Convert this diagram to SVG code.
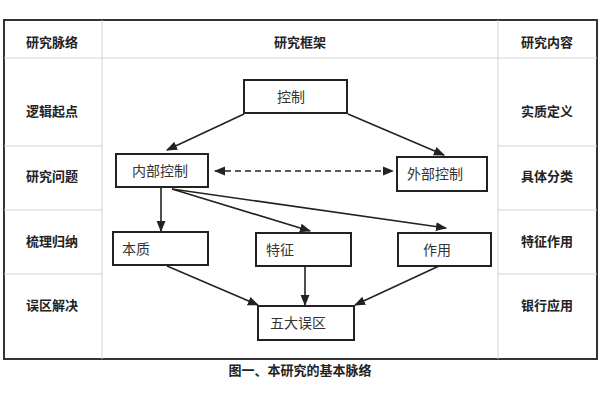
<svg xmlns="http://www.w3.org/2000/svg" width="600" height="400" viewBox="0 0 600 400">
<style>
.g{stroke:#d4d4d4;stroke-width:1;fill:none}
.b{fill:#fff;stroke:#222;stroke-width:2}
.h{font-family:"Noto Sans CJK SC",sans-serif;font-size:13px;font-weight:bold;fill:#222;text-anchor:middle}
.t{font-family:"Noto Sans CJK SC",sans-serif;font-size:14px;fill:#333}
.c{stroke:#222;stroke-width:1.6;fill:none;marker-end:url(#a)}
</style>
<defs><marker id="a" viewBox="0 0 10 10" refX="9" refY="5" markerWidth="7" markerHeight="7" orient="auto-start-reverse"><path d="M0,1 L10,5 L0,9 z" fill="#222"/></marker></defs>
<rect width="600" height="400" fill="#fff"/>
<g id="grid">
<rect x="4" y="20" width="593" height="339" fill="none" stroke="#333" stroke-width="2"/>
<line class="g" x1="102" y1="20" x2="102" y2="359"/>
<line class="g" x1="498" y1="20" x2="498" y2="359"/>
<line class="g" x1="4" y1="58" x2="597" y2="58"/>
<line class="g" x1="4" y1="146" x2="102" y2="146"/><line class="g" x1="498" y1="146" x2="597" y2="146"/>
<line class="g" x1="4" y1="210" x2="102" y2="210"/><line class="g" x1="498" y1="210" x2="597" y2="210"/>
<line class="g" x1="4" y1="274" x2="102" y2="274"/><line class="g" x1="498" y1="274" x2="597" y2="274"/>
</g>
<g id="labels">
<text class="h" x="52" y="47">研究脉络</text><text class="h" x="300" y="47">研究框架</text><text class="h" x="547" y="47">研究内容</text>
<text class="h" x="52" y="116">逻辑起点</text><text class="h" x="547" y="116">实质定义</text>
<text class="h" x="52" y="181">研究问题</text><text class="h" x="547" y="181">具体分类</text>
<text class="h" x="52" y="246">梳理归纳</text><text class="h" x="547" y="246">特征作用</text>
<text class="h" x="52" y="310">误区解决</text><text class="h" x="547" y="310">银行应用</text>
<text class="h" x="300" y="375">图一、本研究的基本脉络</text>
</g>
<g id="connectors">
<line class="c" x1="244" y1="114" x2="167" y2="150"/>
<line class="c" x1="348" y1="114" x2="444" y2="155"/>
<line class="c" x1="215" y1="171" x2="393" y2="171" stroke-dasharray="6,4" marker-start="url(#a)"/>
<line class="c" x1="161" y1="188" x2="161" y2="231"/>
<line class="c" x1="172" y1="189" x2="310" y2="231"/>
<line class="c" x1="172" y1="189" x2="446" y2="228"/>
<line class="c" x1="167" y1="266" x2="258" y2="305"/>
<line class="c" x1="305" y1="266" x2="305" y2="305"/>
<line class="c" x1="439" y1="266" x2="355" y2="305"/>
</g>
<g id="n1"><rect class="b" x="244" y="80" width="103" height="33"/><text class="t" x="277" y="102">控制</text></g>
<g id="n2"><rect class="b" x="116" y="154" width="92" height="33"/><text class="t" x="132" y="176">内部控制</text></g>
<g id="n3"><rect class="b" x="397" y="157" width="90" height="34"/><text class="t" x="407" y="179">外部控制</text></g>
<g id="n4"><rect class="b" x="113" y="232" width="95" height="33"/><text class="t" x="122" y="254">本质</text></g>
<g id="n5"><rect class="b" x="256" y="233" width="95" height="33"/><text class="t" x="266" y="255">特征</text></g>
<g id="n6"><rect class="b" x="398" y="233" width="93" height="33"/><text class="t" x="423" y="255">作用</text></g>
<g id="n7"><rect class="b" x="258" y="306" width="96" height="34"/><text class="t" x="270" y="328">五大误区</text></g>
</svg>
